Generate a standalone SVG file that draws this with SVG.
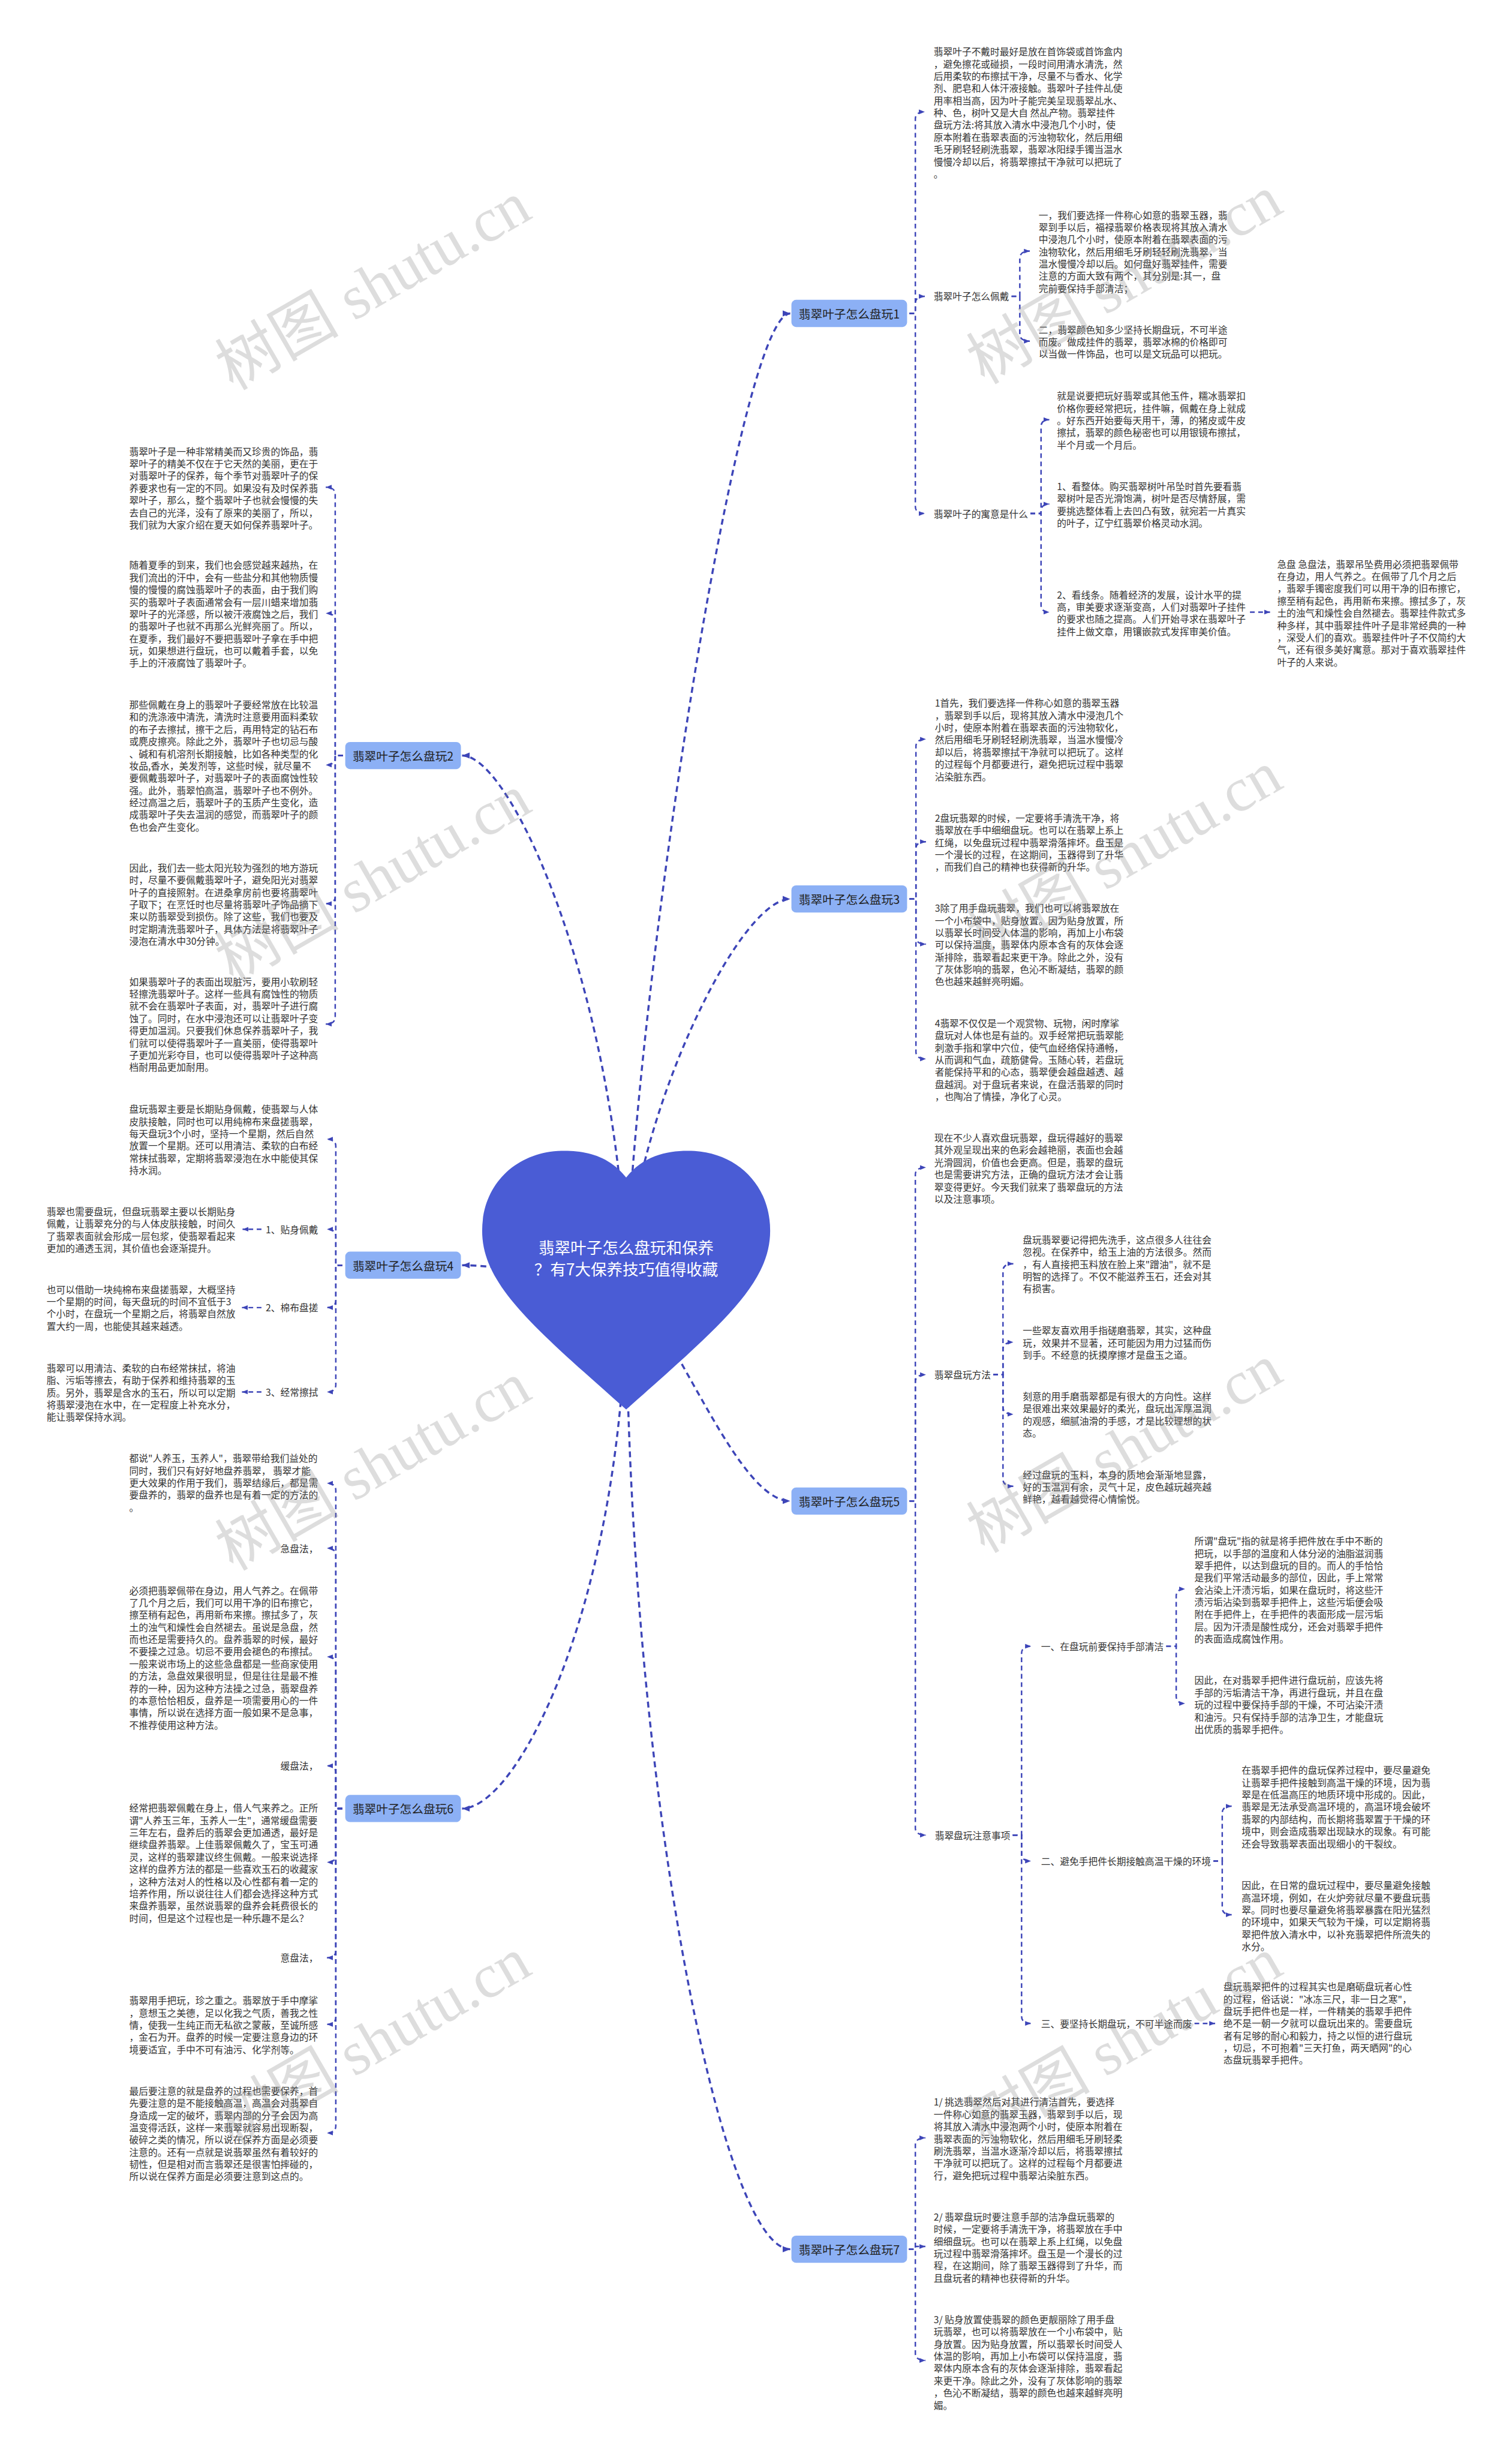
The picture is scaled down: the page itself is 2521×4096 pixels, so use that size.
<svg xmlns="http://www.w3.org/2000/svg" width="2521" height="4096" viewBox="0 0 2521 4096">
<defs>
<style>
.t{font-family:"Noto Sans CJK SC","Noto Sans",sans-serif;font-size:16px;fill:#333;dominant-baseline:central}
.te{text-anchor:end}
.nr{fill:#8cb0f5}
.nt{font-family:"Noto Sans CJK SC","Noto Sans",sans-serif;font-size:20px;fill:#222;text-anchor:middle;dominant-baseline:central}
.c{fill:none;stroke:#3d45b8;stroke-width:2.5;stroke-dasharray:8 6;marker-end:url(#ar)}
.cr{stroke-width:3.5;stroke-dasharray:10 7;marker-end:url(#ar2)}
.wm{font-size:105px;fill:#888;opacity:.28;text-anchor:middle}
</style>
<marker id="ar" viewBox="0 0 10 10" refX="10" refY="5" markerWidth="10" markerHeight="10" markerUnits="userSpaceOnUse" orient="auto"><path d="M0,1 L10,5 L0,9 Z" fill="#3d45b8"/></marker>
<marker id="ar2" viewBox="0 0 10 10" refX="10" refY="5" markerWidth="13" markerHeight="13" markerUnits="userSpaceOnUse" orient="auto"><path d="M0,1 L10,5 L0,9 Z" fill="#3d45b8"/></marker>
</defs>
<rect width="2521" height="4096" fill="#fff"/>
<g transform="scale(0.984)">
<g id="connectors">
<path class="c cr" d="M1061 2170 C1075 1700 1250 531 1339 531"/>
<path class="c cr" d="M1061 2170 C1070 1900 1250 1523 1339 1523"/>
<path class="c cr" d="M1061 2170 C1150 2260 1250 2543 1339 2543"/>
<path class="c cr" d="M1061 2170 C1061 3000 1220 3810.6 1339 3810.6"/>
<path class="c cr" d="M1061 2170 C1050 1700 870 1280 783 1280"/>
<path class="c cr" d="M1061 2170 C950 2165 850 2143.5 783 2143.5"/>
<path class="c cr" d="M1061 2170 C1061 2700 880 3064 783 3064"/>
<path class="c" d="M1541 531 H1551 V201.5 Q1551 189.5 1567 189.5"/>
<path class="c" d="M1541 531 H1551 V514 Q1551 502 1567 502"/>
<path class="c" d="M1541 531 H1551 V858 Q1551 870 1567 870"/>
<path class="c" d="M1714 502 H1728 V437.4 Q1728 425.4 1745 425.4"/>
<path class="c" d="M1714 502 H1728 V566 Q1728 578 1745 578"/>
<path class="c" d="M1746 870 H1764 V723 Q1764 711 1778 711"/>
<path class="c" d="M1746 870 H1764 V866 Q1764 854 1778 854"/>
<path class="c" d="M1746 870 H1764 V1025 Q1764 1037 1778 1037"/>
<path class="c" d="M2118 1037 H2152"/>
<path class="c" d="M1541 1523 H1552 V1264.4 Q1552 1252.4 1569 1252.4"/>
<path class="c" d="M1541 1523 H1552 V1438 Q1552 1426 1569 1426"/>
<path class="c" d="M1541 1523 H1552 V1587.5 Q1552 1599.5 1569 1599.5"/>
<path class="c" d="M1541 1523 H1552 V1782 Q1552 1794 1569 1794"/>
<path class="c" d="M1541 2543 H1551 V1990 Q1551 1978 1569 1978"/>
<path class="c" d="M1541 2543 H1551 V2341 Q1551 2329 1569 2329"/>
<path class="c" d="M1541 2543 H1551 V3097 Q1551 3109 1569 3109"/>
<path class="c" d="M1683 2329 H1699.5 V2153 Q1699.5 2141 1717 2141"/>
<path class="c" d="M1683 2329 H1699.5 V2286 Q1699.5 2274 1717 2274"/>
<path class="c" d="M1683 2329 H1699.5 V2384 Q1699.5 2396 1717 2396"/>
<path class="c" d="M1683 2329 H1699.5 V2506 Q1699.5 2518 1717 2518"/>
<path class="c" d="M1716 3109 H1731 V2801 Q1731 2789 1747 2789"/>
<path class="c" d="M1716 3109 H1731 V3141 Q1731 3153 1747 3153"/>
<path class="c" d="M1716 3109 H1731 V3416 Q1731 3428 1747 3428"/>
<path class="c" d="M1976 2789 H1993 V2704 Q1993 2692 2008 2692"/>
<path class="c" d="M1976 2789 H1993 V2874 Q1993 2886 2008 2886"/>
<path class="c" d="M2056 3153 H2071 V3072 Q2071 3060 2087 3060"/>
<path class="c" d="M2056 3153 H2071 V3232 Q2071 3244 2087 3244"/>
<path class="c" d="M2024 3428 H2059"/>
<path class="c" d="M1540 3810.6 H1551 V3634 Q1551 3622 1568 3622"/>
<path class="c" d="M1540 3810.6 H1551 V3806 H1568"/>
<path class="c" d="M1540 3810.6 H1551 V3987 Q1551 3999 1568 3999"/>
<path class="c" d="M581 1280 H568 V837.5 Q568 825.5 552 825.5"/>
<path class="c" d="M581 1280 H568 V1051 Q568 1039 552 1039"/>
<path class="c" d="M581 1280 H568 V1284 Q568 1296 552 1296"/>
<path class="c" d="M581 1280 H568 V1519 Q568 1531 552 1531"/>
<path class="c" d="M581 1280 H568 V1723 Q568 1735 552 1735"/>
<path class="c" d="M580 2143.5 H569 V1942 Q569 1930 554 1930"/>
<path class="c" d="M580 2143.5 H569 V2094.6 Q569 2082.6 554 2082.6"/>
<path class="c" d="M580 2143.5 H569 V2203.3 Q569 2215.3 554 2215.3"/>
<path class="c" d="M580 2143.5 H569 V2346.2 Q569 2358.2 554 2358.2"/>
<path class="c" d="M443 2082.6 H411"/>
<path class="c" d="M443 2215.3 H410"/>
<path class="c" d="M443 2358.2 H410"/>
<path class="c" d="M580 3064 H569 V2525 Q569 2513 554 2513"/>
<path class="c" d="M580 3064 H569 V2635 Q569 2623 554 2623"/>
<path class="c" d="M580 3064 H569 V2819 Q569 2807 554 2807"/>
<path class="c" d="M580 3064 H569 V3003.6 Q569 2991.6 554 2991.6"/>
<path class="c" d="M580 3064 H569 V3143 Q569 3155 554 3155"/>
<path class="c" d="M580 3064 H569 V3304.8 Q569 3316.8 554 3316.8"/>
<path class="c" d="M580 3064 H569 V3417.6 Q569 3429.6 554 3429.6"/>
<path class="c" d="M580 3064 H569 V3601.7 Q569 3613.7 554 3613.7"/>
</g>
<g id="root">
<path d="M1061 1995 C1030 1955 985 1948 945 1950 C870 1955 817 2010 817 2085 C817 2175 900 2245 1061 2388 C1222 2245 1305 2175 1305 2085 C1305 2010 1252 1955 1177 1950 C1137 1948 1092 1955 1061 1995 Z" fill="#4a5cd5"/>
<text font-family="Noto Sans CJK SC, sans-serif" font-size="27" fill="#fff" text-anchor="middle"><tspan x="1061" y="2124">翡翠叶子怎么盘玩和保养</tspan><tspan x="1061" y="2161">？有7大保养技巧值得收藏</tspan></text>
</g>
<g id="n1"><rect class="nr" x="1341" y="508" width="196" height="46" rx="8"/><text class="nt" x="1439" y="531">翡翠叶子怎么盘玩1</text></g>
<g id="n2"><rect class="nr" x="585" y="1257" width="196" height="46" rx="8"/><text class="nt" x="683" y="1280">翡翠叶子怎么盘玩2</text></g>
<g id="n3"><rect class="nr" x="1341" y="1500" width="196" height="46" rx="8"/><text class="nt" x="1439" y="1523">翡翠叶子怎么盘玩3</text></g>
<g id="n4"><rect class="nr" x="585" y="2120.5" width="196" height="46" rx="8"/><text class="nt" x="683" y="2143.5">翡翠叶子怎么盘玩4</text></g>
<g id="n5"><rect class="nr" x="1341" y="2520" width="196" height="46" rx="8"/><text class="nt" x="1439" y="2543">翡翠叶子怎么盘玩5</text></g>
<g id="n6"><rect class="nr" x="585" y="3041" width="196" height="46" rx="8"/><text class="nt" x="683" y="3064">翡翠叶子怎么盘玩6</text></g>
<g id="n7"><rect class="nr" x="1341" y="3787.6" width="196" height="46" rx="8"/><text class="nt" x="1439" y="3810.6">翡翠叶子怎么盘玩7</text></g>

<g id="a1"><text class="t" transform="translate(1582,86.6)"><tspan x="0" dy="0">翡翠叶子不戴时最好是放在首饰袋或首饰盒内</tspan><tspan x="0" dy="20.7">，避免擦花或碰损，一段时间用清水清洗，然</tspan><tspan x="0" dy="20.7">后用柔软的布擦拭干净，尽量不与香水、化学</tspan><tspan x="0" dy="20.7">剂、肥皂和人体汗液接触。翡翠叶子挂件乩使</tspan><tspan x="0" dy="20.7">用率相当高，因为叶子能完美呈现翡翠乩水、</tspan><tspan x="0" dy="20.7">种、色，树叶又是大自 然乩产物。翡翠挂件</tspan><tspan x="0" dy="20.7">盘玩方法:将其放入清水中浸泡几个小时，使</tspan><tspan x="0" dy="20.7">原本附着在翡翠表面的污浊物软化，然后用细</tspan><tspan x="0" dy="20.7">毛牙刷轻轻刷洗翡翠，翡翠冰阳绿手镯当温水</tspan><tspan x="0" dy="20.7">慢慢冷却以后，将翡翠擦拭干净就可以把玩了</tspan><tspan x="0" dy="20.7">。</tspan></text></g>
<g id="l-peidai"><text class="t" x="1582" y="502">翡翠叶子怎么佩戴</text></g>
<g id="b1"><text class="t" transform="translate(1760,363.4)"><tspan x="0" dy="0">一，我们要选择一件称心如意的翡翠玉器，翡</tspan><tspan x="0" dy="20.7">翠到手以后，福禄翡翠价格表现将其放入清水</tspan><tspan x="0" dy="20.7">中浸泡几个小时，使原本附着在翡翠表面的污</tspan><tspan x="0" dy="20.7">浊物软化，然后用细毛牙刷轻轻刷洗翡翠，当</tspan><tspan x="0" dy="20.7">温水慢慢冷却以后。如何盘好翡翠挂件，需要</tspan><tspan x="0" dy="20.7">注意的方面大致有两个，其分别是:其一，盘</tspan><tspan x="0" dy="20.7">完前要保持手部清洁；</tspan></text></g>
<g id="b2"><text class="t" transform="translate(1760,557.6)"><tspan x="0" dy="0">二，翡翠颜色知多少坚持长期盘玩，不可半途</tspan><tspan x="0" dy="20.7">而废。做成挂件的翡翠，翡翠冰棉的价格即可</tspan><tspan x="0" dy="20.7">以当做一件饰品，也可以是文玩品可以把玩。</tspan></text></g>
<g id="l-yuyi"><text class="t" x="1582" y="870">翡翠叶子的寓意是什么</text></g>
<g id="c1"><text class="t" transform="translate(1791,670)"><tspan x="0" dy="0">就是说要把玩好翡翠或其他玉件，糯冰翡翠扣</tspan><tspan x="0" dy="20.7">价格你要经常把玩，挂件嘛，佩戴在身上就成</tspan><tspan x="0" dy="20.7">。好东西开始要每天用干，薄，的猪皮或牛皮</tspan><tspan x="0" dy="20.7">擦拭，翡翠的颜色秘密也可以用银镜布擦拭，</tspan><tspan x="0" dy="20.7">半个月或一个月后。</tspan></text></g>
<g id="c2"><text class="t" transform="translate(1791,823.3)"><tspan x="0" dy="0">1、看整体。购买翡翠树叶吊坠时首先要看翡</tspan><tspan x="0" dy="20.7">翠树叶是否光滑饱满，树叶是否尽情舒展，需</tspan><tspan x="0" dy="20.7">要挑选整体看上去凹凸有致，就宛若一片真实</tspan><tspan x="0" dy="20.7">的叶子，辽宁红翡翠价格灵动水润。</tspan></text></g>
<g id="c3"><text class="t" transform="translate(1791,1006.7)"><tspan x="0" dy="0">2、看线条。随着经济的发展，设计水平的提</tspan><tspan x="0" dy="20.7">高，审美要求逐渐变高，人们对翡翠叶子挂件</tspan><tspan x="0" dy="20.7">的要求也随之提高。人们开始寻求在翡翠叶子</tspan><tspan x="0" dy="20.7">挂件上做文章，用镶嵌款式发挥审美价值。</tspan></text></g>
<g id="c4"><text class="t" transform="translate(2164,955)"><tspan x="0" dy="0">急盘 急盘法，翡翠吊坠费用必须把翡翠佩带</tspan><tspan x="0" dy="20.7">在身边，用人气养之。在佩带了几个月之后</tspan><tspan x="0" dy="20.7">，翡翠手镯密度我们可以用干净的旧布擦它，</tspan><tspan x="0" dy="20.7">擦至稍有起色，再用新布来擦。擦拭多了，灰</tspan><tspan x="0" dy="20.7">土的浊气和燥性会自然褪去。翡翠挂件款式多</tspan><tspan x="0" dy="20.7">种多样，其中翡翠挂件叶子是非常经典的一种</tspan><tspan x="0" dy="20.7">，深受人们的喜欢。翡翠挂件叶子不仅简约大</tspan><tspan x="0" dy="20.7">气，还有很多美好寓意。那对于喜欢翡翠挂件</tspan><tspan x="0" dy="20.7">叶子的人来说。</tspan></text></g>

<g id="d1"><text class="t" transform="translate(219,763.9)"><tspan x="0" dy="0">翡翠叶子是一种非常精美而又珍贵的饰品，翡</tspan><tspan x="0" dy="20.7">翠叶子的精美不仅在于它天然的美丽，更在于</tspan><tspan x="0" dy="20.7">对翡翠叶子的保养，每个季节对翡翠叶子的保</tspan><tspan x="0" dy="20.7">养要求也有一定的不同。如果没有及时保养翡</tspan><tspan x="0" dy="20.7">翠叶子，那么，整个翡翠叶子也就会慢慢的失</tspan><tspan x="0" dy="20.7">去自己的光泽，没有了原来的美丽了，所以，</tspan><tspan x="0" dy="20.7">我们就为大家介绍在夏天如何保养翡翠叶子。</tspan></text></g>
<g id="d2"><text class="t" transform="translate(219,956.8)"><tspan x="0" dy="0">随着夏季的到来，我们也会感觉越来越热，在</tspan><tspan x="0" dy="20.7">我们流出的汗中，会有一些盐分和其他物质慢</tspan><tspan x="0" dy="20.7">慢的慢慢的腐蚀翡翠叶子的表面，由于我们购</tspan><tspan x="0" dy="20.7">买的翡翠叶子表面通常会有一层川蜡来增加翡</tspan><tspan x="0" dy="20.7">翠叶子的光泽感，所以被汗液腐蚀之后，我们</tspan><tspan x="0" dy="20.7">的翡翠叶子也就不再那么光鲜亮丽了。所以，</tspan><tspan x="0" dy="20.7">在夏季，我们最好不要把翡翠叶子拿在手中把</tspan><tspan x="0" dy="20.7">玩，如果想进行盘玩，也可以戴着手套，以免</tspan><tspan x="0" dy="20.7">手上的汗液腐蚀了翡翠叶子。</tspan></text></g>
<g id="d3"><text class="t" transform="translate(219,1193.2)"><tspan x="0" dy="0">那些佩戴在身上的翡翠叶子要经常放在比较温</tspan><tspan x="0" dy="20.7">和的洗涤液中清洗，清洗时注意要用面料柔软</tspan><tspan x="0" dy="20.7">的布子去擦拭，擦干之后，再用特定的钻石布</tspan><tspan x="0" dy="20.7">或麂皮擦亮。除此之外，翡翠叶子也切忌与酸</tspan><tspan x="0" dy="20.7">、碱和有机溶剂长期接触，比如各种类型的化</tspan><tspan x="0" dy="20.7">妆品,香水，美发剂等，这些时候，就尽量不</tspan><tspan x="0" dy="20.7">要佩戴翡翠叶子，对翡翠叶子的表面腐蚀性较</tspan><tspan x="0" dy="20.7">强。此外，翡翠怕高温，翡翠叶子也不例外。</tspan><tspan x="0" dy="20.7">经过高温之后，翡翠叶子的玉质产生变化，造</tspan><tspan x="0" dy="20.7">成翡翠叶子失去温润的感觉，而翡翠叶子的颜</tspan><tspan x="0" dy="20.7">色也会产生变化。</tspan></text></g>
<g id="d4"><text class="t" transform="translate(219,1469.4)"><tspan x="0" dy="0">因此，我们去一些太阳光较为强烈的地方游玩</tspan><tspan x="0" dy="20.7">时，尽量不要佩戴翡翠叶子，避免阳光对翡翠</tspan><tspan x="0" dy="20.7">叶子的直接照射。在进桑拿房前也要将翡翠叶</tspan><tspan x="0" dy="20.7">子取下；在烹饪时也尽量将翡翠叶子饰品摘下</tspan><tspan x="0" dy="20.7">来以防翡翠受到损伤。除了这些，我们也要及</tspan><tspan x="0" dy="20.7">时定期清洗翡翠叶子，具体方法是将翡翠叶子</tspan><tspan x="0" dy="20.7">浸泡在清水中30分钟。</tspan></text></g>
<g id="d5"><text class="t" transform="translate(219,1662.3)"><tspan x="0" dy="0">如果翡翠叶子的表面出现脏污，要用小软刷轻</tspan><tspan x="0" dy="20.7">轻擦洗翡翠叶子。这样一些具有腐蚀性的物质</tspan><tspan x="0" dy="20.7">就不会在翡翠叶子表面，对，翡翠叶子进行腐</tspan><tspan x="0" dy="20.7">蚀了。同时，在水中浸泡还可以让翡翠叶子变</tspan><tspan x="0" dy="20.7">得更加温润。只要我们休息保养翡翠叶子，我</tspan><tspan x="0" dy="20.7">们就可以使得翡翠叶子一直美丽，使得翡翠叶</tspan><tspan x="0" dy="20.7">子更加光彩夺目，也可以使得翡翠叶子这种高</tspan><tspan x="0" dy="20.7">档耐用品更加耐用。</tspan></text></g>

<g id="e1"><text class="t" transform="translate(1584,1190.4)"><tspan x="0" dy="0">1首先，我们要选择一件称心如意的翡翠玉器</tspan><tspan x="0" dy="20.7">，翡翠到手以后，现将其放入清水中浸泡几个</tspan><tspan x="0" dy="20.7">小时，使原本附着在翡翠表面的污浊物软化，</tspan><tspan x="0" dy="20.7">然后用细毛牙刷轻轻刷洗翡翠，当温水慢慢冷</tspan><tspan x="0" dy="20.7">却以后，将翡翠擦拭干净就可以把玩了。这样</tspan><tspan x="0" dy="20.7">的过程每个月都要进行，避免把玩过程中翡翠</tspan><tspan x="0" dy="20.7">沾染脏东西。</tspan></text></g>
<g id="e2"><text class="t" transform="translate(1584,1385.1)"><tspan x="0" dy="0">2盘玩翡翠的时候，一定要将手清洗干净，将</tspan><tspan x="0" dy="20.7">翡翠放在手中细细盘玩。也可以在翡翠上系上</tspan><tspan x="0" dy="20.7">红绳，以免盘玩过程中翡翠滑落摔坏。盘玉是</tspan><tspan x="0" dy="20.7">一个漫长的过程，在这期间，玉器得到了升华</tspan><tspan x="0" dy="20.7">，而我们自己的精神也获得新的升华。</tspan></text></g>
<g id="e3"><text class="t" transform="translate(1584,1537.8)"><tspan x="0" dy="0">3除了用手盘玩翡翠，我们也可以将翡翠放在</tspan><tspan x="0" dy="20.7">一个小布袋中，贴身放置。因为贴身放置，所</tspan><tspan x="0" dy="20.7">以翡翠长时间受人体温的影响，再加上小布袋</tspan><tspan x="0" dy="20.7">可以保持温度，翡翠体内原本含有的灰体会逐</tspan><tspan x="0" dy="20.7">渐排除，翡翠看起来更干净。除此之外，没有</tspan><tspan x="0" dy="20.7">了灰体影响的翡翠，色沁不断凝结，翡翠的颜</tspan><tspan x="0" dy="20.7">色也越来越鲜亮明媚。</tspan></text></g>
<g id="e4"><text class="t" transform="translate(1584,1732.5)"><tspan x="0" dy="0">4翡翠不仅仅是一个观赏物、玩物，闲时摩挲</tspan><tspan x="0" dy="20.7">盘玩对人体也是有益的。双手经常把玩翡翠能</tspan><tspan x="0" dy="20.7">刺激手指和掌中穴位，使气血经络保持通畅，</tspan><tspan x="0" dy="20.7">从而调和气血，疏筋健骨。玉随心转，若盘玩</tspan><tspan x="0" dy="20.7">者能保持平和的心态，翡翠便会越盘越透、越</tspan><tspan x="0" dy="20.7">盘越润。对于盘玩者来说，在盘活翡翠的同时</tspan><tspan x="0" dy="20.7">，也陶冶了情操，净化了心灵。</tspan></text></g>

<g id="f1"><text class="t" transform="translate(219,1878.4)"><tspan x="0" dy="0">盘玩翡翠主要是长期贴身佩戴，使翡翠与人体</tspan><tspan x="0" dy="20.7">皮肤接触，同时也可以用纯棉布来盘搓翡翠，</tspan><tspan x="0" dy="20.7">每天盘玩3个小时，坚持一个星期，然后自然</tspan><tspan x="0" dy="20.7">放置一个星期。还可以用清洁、柔软的白布经</tspan><tspan x="0" dy="20.7">常抹拭翡翠，定期将翡翠浸泡在水中能使其保</tspan><tspan x="0" dy="20.7">持水润。</tspan></text></g>
<g id="fl1"><text class="t te" x="539" y="2082.6">1、贴身佩戴</text></g>
<g id="fl2"><text class="t te" x="539" y="2215.3">2、棉布盘搓</text></g>
<g id="fl3"><text class="t te" x="539" y="2358.2">3、经常擦拭</text></g>
<g id="f2"><text class="t" transform="translate(79,2051.7)"><tspan x="0" dy="0">翡翠也需要盘玩，但盘玩翡翠主要以长期贴身</tspan><tspan x="0" dy="20.7">佩戴，让翡翠充分的与人体皮肤接触，时间久</tspan><tspan x="0" dy="20.7">了翡翠表面就会形成一层包浆，使翡翠看起来</tspan><tspan x="0" dy="20.7">更加的通透玉润，其价值也会逐渐提升。</tspan></text></g>
<g id="f3"><text class="t" transform="translate(79,2183.7)"><tspan x="0" dy="0">也可以借助一块纯棉布来盘搓翡翠，大概坚持</tspan><tspan x="0" dy="20.7">一个星期的时间，每天盘玩的时间不宜低于3</tspan><tspan x="0" dy="20.7">个小时，在盘玩一个星期之后，将翡翠自然放</tspan><tspan x="0" dy="20.7">置大约一周，也能使其越来越透。</tspan></text></g>
<g id="f4"><text class="t" transform="translate(79,2317.1)"><tspan x="0" dy="0">翡翠可以用清洁、柔软的白布经常抹拭，将油</tspan><tspan x="0" dy="20.7">脂、污垢等擦去，有助于保养和维持翡翠的玉</tspan><tspan x="0" dy="20.7">质。另外，翡翠是含水的玉石，所以可以定期</tspan><tspan x="0" dy="20.7">将翡翠浸泡在水中，在一定程度上补充水分，</tspan><tspan x="0" dy="20.7">能让翡翠保持水润。</tspan></text></g>

<g id="g1"><text class="t" transform="translate(1583,1926.9)"><tspan x="0" dy="0">现在不少人喜欢盘玩翡翠，盘玩得越好的翡翠</tspan><tspan x="0" dy="20.7">其外观呈现出来的色彩会越艳丽，表面也会越</tspan><tspan x="0" dy="20.7">光滑圆润，价值也会更高。但是，翡翠的盘玩</tspan><tspan x="0" dy="20.7">也是需要讲究方法，正确的盘玩方法才会让翡</tspan><tspan x="0" dy="20.7">翠变得更好。今天我们就来了翡翠盘玩的方法</tspan><tspan x="0" dy="20.7">以及注意事项。</tspan></text></g>
<g id="l-fangfa"><text class="t" x="1583" y="2329">翡翠盘玩方法</text></g>
<g id="g2"><text class="t" transform="translate(1733,2099.5)"><tspan x="0" dy="0">盘玩翡翠要记得把先洗手，这点很多人往往会</tspan><tspan x="0" dy="20.7">忽视。在保养中，给玉上油的方法很多。然而</tspan><tspan x="0" dy="20.7">，有人直接把玉料放在脸上来"蹭油"，就不是</tspan><tspan x="0" dy="20.7">明智的选择了。不仅不能滋养玉石，还会对其</tspan><tspan x="0" dy="20.7">有损害。</tspan></text></g>
<g id="g3"><text class="t" transform="translate(1733,2253.4)"><tspan x="0" dy="0">一些翠友喜欢用手指磋磨翡翠，其实，这种盘</tspan><tspan x="0" dy="20.7">玩，效果并不显著，还可能因为用力过猛而伤</tspan><tspan x="0" dy="20.7">到手。不经意的抚摸摩擦才是盘玉之道。</tspan></text></g>
<g id="g4"><text class="t" transform="translate(1733,2364.9)"><tspan x="0" dy="0">刻意的用手磨翡翠都是有很大的方向性。这样</tspan><tspan x="0" dy="20.7">是很难出来效果最好的柔光，盘玩出浑厚温润</tspan><tspan x="0" dy="20.7">的观感，细腻油滑的手感，才是比较理想的状</tspan><tspan x="0" dy="20.7">态。</tspan></text></g>
<g id="g5"><text class="t" transform="translate(1733,2497.6)"><tspan x="0" dy="0">经过盘玩的玉料，本身的质地会渐渐地显露，</tspan><tspan x="0" dy="20.7">好的玉温润有余，灵气十足，皮色越玩越亮越</tspan><tspan x="0" dy="20.7">鲜艳，越看越觉得心情愉悦。</tspan></text></g>
<g id="l-zhuyi"><text class="t" x="1584" y="3109">翡翠盘玩注意事项</text></g>
<g id="l-1"><text class="t" x="1764" y="2789">一、在盘玩前要保持手部清洁</text></g>
<g id="l-2"><text class="t" x="1764" y="3153">二、避免手把件长期接触高温干燥的环境</text></g>
<g id="l-3"><text class="t" x="1764" y="3428">三、要坚持长期盘玩，不可半途而废</text></g>
<g id="h1"><text class="t" transform="translate(2024,2610)"><tspan x="0" dy="0">所谓"盘玩"指的就是将手把件放在手中不断的</tspan><tspan x="0" dy="20.7">把玩，以手部的温度和人体分泌的油脂滋润翡</tspan><tspan x="0" dy="20.7">翠手把件，以达到盘玩的目的。而人的手恰恰</tspan><tspan x="0" dy="20.7">是我们平常活动最多的部位，因此，手上常常</tspan><tspan x="0" dy="20.7">会沾染上汗渍污垢，如果在盘玩时，将这些汗</tspan><tspan x="0" dy="20.7">渍污垢沾染到翡翠手把件上，这些污垢便会吸</tspan><tspan x="0" dy="20.7">附在手把件上，在手把件的表面形成一层污垢</tspan><tspan x="0" dy="20.7">层。因为汗渍是酸性成分，还会对翡翠手把件</tspan><tspan x="0" dy="20.7">的表面造成腐蚀作用。</tspan></text></g>
<g id="h2"><text class="t" transform="translate(2024,2846)"><tspan x="0" dy="0">因此，在对翡翠手把件进行盘玩前，应该先将</tspan><tspan x="0" dy="20.7">手部的污垢清洁干净，再进行盘玩，并且在盘</tspan><tspan x="0" dy="20.7">玩的过程中要保持手部的干燥，不可沾染汗渍</tspan><tspan x="0" dy="20.7">和油污。只有保持手部的洁净卫生，才能盘玩</tspan><tspan x="0" dy="20.7">出优质的翡翠手把件。</tspan></text></g>
<g id="h3"><text class="t" transform="translate(2104,2998.3)"><tspan x="0" dy="0">在翡翠手把件的盘玩保养过程中，要尽量避免</tspan><tspan x="0" dy="20.7">让翡翠手把件接触到高温干燥的环境，因为翡</tspan><tspan x="0" dy="20.7">翠是在低温高压的地质环境中形成的。因此，</tspan><tspan x="0" dy="20.7">翡翠是无法承受高温环境的，高温环境会破坏</tspan><tspan x="0" dy="20.7">翡翠的内部结构，而长期将翡翠置于干燥的环</tspan><tspan x="0" dy="20.7">境中，则会造成翡翠出现缺水的现象。有可能</tspan><tspan x="0" dy="20.7">还会导致翡翠表面出现细小的干裂纹。</tspan></text></g>
<g id="h4"><text class="t" transform="translate(2104,3193.3)"><tspan x="0" dy="0">因此，在日常的盘玩过程中，要尽量避免接触</tspan><tspan x="0" dy="20.7">高温环境，例如，在火炉旁就尽量不要盘玩翡</tspan><tspan x="0" dy="20.7">翠。同时也要尽量避免将翡翠暴露在阳光猛烈</tspan><tspan x="0" dy="20.7">的环境中，如果天气较为干燥，可以定期将翡</tspan><tspan x="0" dy="20.7">翠把件放入清水中，以补充翡翠把件所流失的</tspan><tspan x="0" dy="20.7">水分。</tspan></text></g>
<g id="h5"><text class="t" transform="translate(2073,3365)"><tspan x="0" dy="0">盘玩翡翠把件的过程其实也是磨砺盘玩者心性</tspan><tspan x="0" dy="20.7">的过程，俗话说："冰冻三尺，非一日之寒"，</tspan><tspan x="0" dy="20.7">盘玩手把件也是一样，一件精美的翡翠手把件</tspan><tspan x="0" dy="20.7">绝不是一朝一夕就可以盘玩出来的。需要盘玩</tspan><tspan x="0" dy="20.7">者有足够的耐心和毅力，持之以恒的进行盘玩</tspan><tspan x="0" dy="20.7">，切忌，不可抱着"三天打鱼，两天晒网"的心</tspan><tspan x="0" dy="20.7">态盘玩翡翠手把件。</tspan></text></g>

<g id="i1"><text class="t" transform="translate(219,2469.9)"><tspan x="0" dy="0">都说"人养玉，玉养人"，翡翠带给我们益处的</tspan><tspan x="0" dy="20.7">同时，我们只有好好地盘养翡翠， 翡翠才能</tspan><tspan x="0" dy="20.7">更大效果的作用于我们，翡翠结缘后，都是需</tspan><tspan x="0" dy="20.7">要盘养的，翡翠的盘养也是有着一定的方法的</tspan><tspan x="0" dy="20.7">。</tspan></text></g>
<g id="il1"><text class="t te" x="539" y="2623">急盘法，</text></g>
<g id="i2"><text class="t" transform="translate(219,2693.7)"><tspan x="0" dy="0">必须把翡翠佩带在身边，用人气养之。在佩带</tspan><tspan x="0" dy="20.7">了几个月之后，我们可以用干净的旧布擦它，</tspan><tspan x="0" dy="20.7">擦至稍有起色，再用新布来擦。擦拭多了，灰</tspan><tspan x="0" dy="20.7">土的浊气和燥性会自然褪去。虽说是急盘，然</tspan><tspan x="0" dy="20.7">而也还是需要持久的。盘养翡翠的时候，最好</tspan><tspan x="0" dy="20.7">不要操之过急。切忌不要用会褪色的布擦拭。</tspan><tspan x="0" dy="20.7">一般来说市场上的这些急盘都是一些商家使用</tspan><tspan x="0" dy="20.7">的方法，急盘效果很明显，但是往往是最不推</tspan><tspan x="0" dy="20.7">荐的一种，因为这种方法操之过急，翡翠盘养</tspan><tspan x="0" dy="20.7">的本意恰恰相反，盘养是一项需要用心的一件</tspan><tspan x="0" dy="20.7">事情，所以说在选择方面一般如果不是急事，</tspan><tspan x="0" dy="20.7">不推荐使用这种方法。</tspan></text></g>
<g id="il2"><text class="t te" x="539" y="2991.6">缓盘法，</text></g>
<g id="i3"><text class="t" transform="translate(219,3062.3)"><tspan x="0" dy="0">经常把翡翠佩戴在身上，借人气来养之。正所</tspan><tspan x="0" dy="20.7">谓"人养玉三年，玉养人一生"，通常缓盘需要</tspan><tspan x="0" dy="20.7">三年左右，盘养后的翡翠会更加通透，最好是</tspan><tspan x="0" dy="20.7">继续盘养翡翠。上佳翡翠佩戴久了，宝玉可通</tspan><tspan x="0" dy="20.7">灵，这样的翡翠建议终生佩戴。一般来说选择</tspan><tspan x="0" dy="20.7">这样的盘养方法的都是一些喜欢玉石的收藏家</tspan><tspan x="0" dy="20.7">，这种方法对人的性格以及心性都有着一定的</tspan><tspan x="0" dy="20.7">培养作用，所以说往往人们都会选择这种方式</tspan><tspan x="0" dy="20.7">来盘养翡翠，虽然说翡翠的盘养会耗费很长的</tspan><tspan x="0" dy="20.7">时间，但是这个过程也是一种乐趣不是么？</tspan></text></g>
<g id="il3"><text class="t te" x="539" y="3316.8">意盘法，</text></g>
<g id="i4"><text class="t" transform="translate(219,3388.4)"><tspan x="0" dy="0">翡翠用手把玩，珍之重之。翡翠放于手中摩挲</tspan><tspan x="0" dy="20.7">，意想玉之美德，足以化我之气质，善我之性</tspan><tspan x="0" dy="20.7">情，使我一生纯正而无私欲之蒙蔽，至诚所感</tspan><tspan x="0" dy="20.7">，金石为开。盘养的时候一定要注意身边的环</tspan><tspan x="0" dy="20.7">境要适宜，手中不可有油污、化学剂等。</tspan></text></g>
<g id="i5"><text class="t" transform="translate(219,3541.5)"><tspan x="0" dy="0">最后要注意的就是盘养的过程也需要保养，首</tspan><tspan x="0" dy="20.7">先要注意的是不能接触高温，高温会对翡翠自</tspan><tspan x="0" dy="20.7">身造成一定的破坏，翡翠内部的分子会因为高</tspan><tspan x="0" dy="20.7">温变得活跃，这样一来翡翠就容易出现断裂，</tspan><tspan x="0" dy="20.7">破碎之类的情况，所以说在保养方面是必须要</tspan><tspan x="0" dy="20.7">注意的。还有一点就是说翡翠虽然有着较好的</tspan><tspan x="0" dy="20.7">韧性，但是相对而言翡翠还是很害怕摔碰的，</tspan><tspan x="0" dy="20.7">所以说在保养方面是必须要注意到这点的。</tspan></text></g>

<g id="j1"><text class="t" transform="translate(1582,3560.4)"><tspan x="0" dy="0">1/ 挑选翡翠然后对其进行清洁首先，要选择</tspan><tspan x="0" dy="20.7">一件称心如意的翡翠玉器，翡翠到手以后，现</tspan><tspan x="0" dy="20.7">将其放入清水中浸泡两个小时，使原本附着在</tspan><tspan x="0" dy="20.7">翡翠表面的污浊物软化，然后用细毛牙刷轻柔</tspan><tspan x="0" dy="20.7">刷洗翡翠，当温水逐渐冷却以后，将翡翠擦拭</tspan><tspan x="0" dy="20.7">干净就可以把玩了。这样的过程每个月都要进</tspan><tspan x="0" dy="20.7">行，避免把玩过程中翡翠沾染脏东西。</tspan></text></g>
<g id="j2"><text class="t" transform="translate(1582,3754.9)"><tspan x="0" dy="0">2/ 翡翠盘玩时要注意手部的洁净盘玩翡翠的</tspan><tspan x="0" dy="20.7">时候，一定要将手清洗干净，将翡翠放在手中</tspan><tspan x="0" dy="20.7">细细盘玩。也可以在翡翠上系上红绳，以免盘</tspan><tspan x="0" dy="20.7">玩过程中翡翠滑落摔坏。盘玉是一个漫长的过</tspan><tspan x="0" dy="20.7">程，在这期间，除了翡翠玉器得到了升华，而</tspan><tspan x="0" dy="20.7">且盘玩者的精神也获得新的升华。</tspan></text></g>
<g id="j3"><text class="t" transform="translate(1582,3928.8)"><tspan x="0" dy="0">3/ 贴身放置使翡翠的颜色更靓丽除了用手盘</tspan><tspan x="0" dy="20.7">玩翡翠，也可以将翡翠放在一个小布袋中，贴</tspan><tspan x="0" dy="20.7">身放置。因为贴身放置，所以翡翠长时间受人</tspan><tspan x="0" dy="20.7">体温的影响，再加上小布袋可以保持温度，翡</tspan><tspan x="0" dy="20.7">翠体内原本含有的灰体会逐渐排除，翡翠看起</tspan><tspan x="0" dy="20.7">来更干净。除此之外，没有了灰体影响的翡翠</tspan><tspan x="0" dy="20.7">，色沁不断凝结，翡翠的颜色也越来越鲜亮明</tspan><tspan x="0" dy="20.7">媚。</tspan></text></g>

<g id="watermarks">
<text class="wm" transform="translate(650,515) rotate(-30)"><tspan font-family="Noto Sans CJK SC, sans-serif">树图</tspan><tspan font-family="Liberation Serif, serif"> shutu.cn</tspan></text>
<text class="wm" transform="translate(1923,505) rotate(-30)"><tspan font-family="Noto Sans CJK SC, sans-serif">树图</tspan><tspan font-family="Liberation Serif, serif"> shutu.cn</tspan></text>
<text class="wm" transform="translate(650,1520) rotate(-30)"><tspan font-family="Noto Sans CJK SC, sans-serif">树图</tspan><tspan font-family="Liberation Serif, serif"> shutu.cn</tspan></text>
<text class="wm" transform="translate(1923,1480) rotate(-30)"><tspan font-family="Noto Sans CJK SC, sans-serif">树图</tspan><tspan font-family="Liberation Serif, serif"> shutu.cn</tspan></text>
<text class="wm" transform="translate(650,2515) rotate(-30)"><tspan font-family="Noto Sans CJK SC, sans-serif">树图</tspan><tspan font-family="Liberation Serif, serif"> shutu.cn</tspan></text>
<text class="wm" transform="translate(1923,2485) rotate(-30)"><tspan font-family="Noto Sans CJK SC, sans-serif">树图</tspan><tspan font-family="Liberation Serif, serif"> shutu.cn</tspan></text>
<text class="wm" transform="translate(650,3490) rotate(-30)"><tspan font-family="Noto Sans CJK SC, sans-serif">树图</tspan><tspan font-family="Liberation Serif, serif"> shutu.cn</tspan></text>
<text class="wm" transform="translate(1923,3490) rotate(-30)"><tspan font-family="Noto Sans CJK SC, sans-serif">树图</tspan><tspan font-family="Liberation Serif, serif"> shutu.cn</tspan></text>
</g>
</g>
</svg>
